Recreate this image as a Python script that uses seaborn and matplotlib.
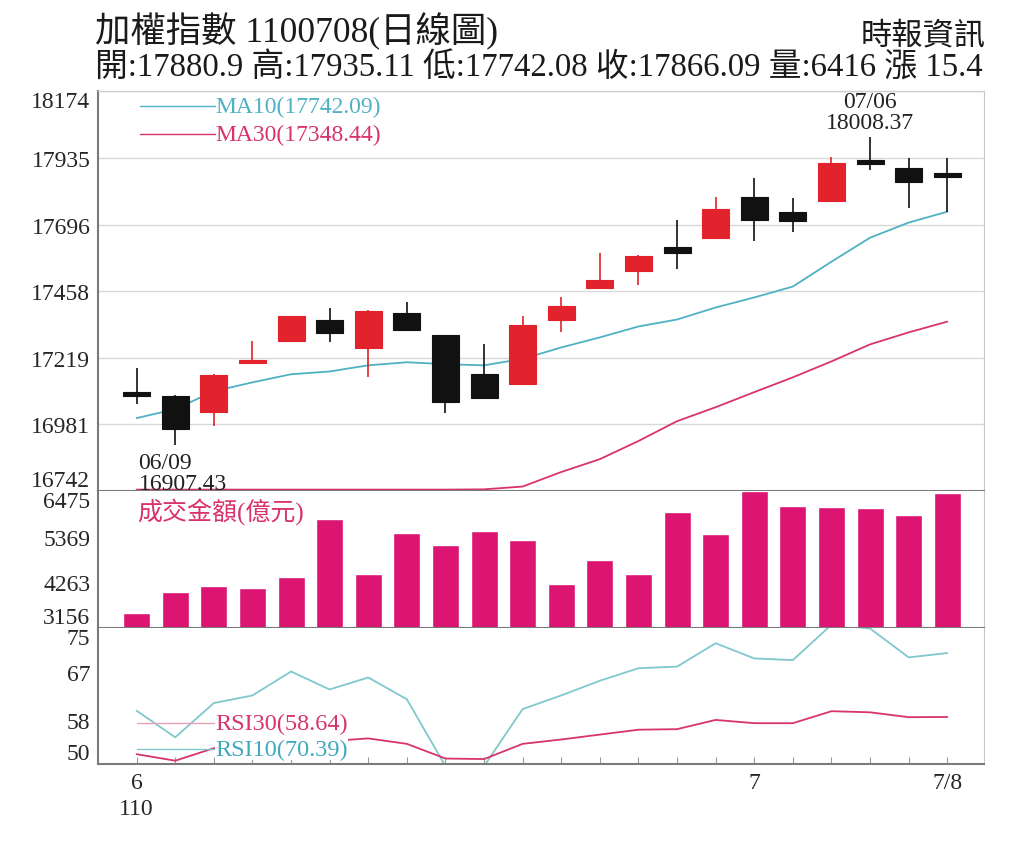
import numpy as np
import pandas as pd
import matplotlib
matplotlib.use('Agg')
import matplotlib.pyplot as plt
import seaborn as sns

# 加權指數 日線 06/08 ~ 07/08 (110年)
dates = ['06/08', '06/09', '06/10', '06/11', '06/15', '06/16', '06/17', '06/18',
         '06/21', '06/22', '06/23', '06/24', '06/25', '06/28', '06/29', '06/30',
         '07/01', '07/02', '07/05', '07/06', '07/07', '07/08']
opens = [17097, 17081, 17024, 17199, 17278, 17353, 17253, 17381, 17299, 17160, 17124,
         17356, 17470, 17528, 17617, 17649, 17795, 17742, 17781, 17928, 17899, 17880.9]
closes = [17083.9, 16963, 17156, 17210, 17367, 17306, 17388, 17317, 17060, 17074, 17335,
          17406, 17499, 17585, 17595, 17753, 17713, 17710, 17917, 17913, 17849, 17866.09]
highs = [17181, 17085, 17160, 17278, 17370, 17396, 17390, 17417, 17300, 17267, 17370,
         17438, 17595, 17588, 17713, 17795, 17863, 17792, 17938, 18008.37, 17935, 17935.11]
lows = [17053, 16907.43, 16974, 17195, 17275, 17274, 17149, 17315, 17021, 17072, 17120,
        17313, 17468, 17478, 17538, 17645, 17638, 17670, 17778, 17892, 17756, 17742.08]
ma10 = [17003, 17035, 17099, 17131, 17160, 17170, 17192, 17203, 17196, 17192, 17215,
        17256, 17292, 17331, 17356, 17399, 17435, 17474, 17563, 17649, 17703, 17742.09]
ma30 = [16747, 16747, 16747, 16747, 16747, 16747, 16747, 16747, 16747, 16748, 16758,
        16810, 16856, 16921, 16992, 17042, 17096, 17149, 17206, 17267, 17310, 17348.44]
volume = [3512, 4021, 4166, 4118, 4399, 5797, 4464, 5458, 5174, 5506, 5296,
          4222, 4804, 4457, 5959, 5434, 6480, 6120, 6095, 6056, 5901, 6416]
rsi10 = [59.8, 54.9, 61.2, 62.6, 67.0, 63.7, 65.9, 61.9, 49.6, 49.6, 60.1,
         62.6, 65.3, 67.6, 67.9, 72.2, 69.4, 69.1, 75.6, 74.9, 69.6, 70.39]
rsi30 = [51.8, 50.6, 52.9, 53.4, 53.8, 54.2, 54.7, 53.7, 51.0, 50.9, 53.7,
         54.5, 55.4, 56.3, 56.4, 58.1, 57.5, 57.5, 59.7, 59.5, 58.6, 58.64]

price_ticks = [16742, 16981, 17219, 17458, 17696, 17935, 18174]
vol_ticks = [3156, 4263, 5369, 6475]
rsi_ticks = [50, 58, 67, 75]

df = pd.DataFrame({'date': dates, 'open': opens, 'close': closes, 'high': highs,
                   'low': lows, 'ma10': ma10, 'ma30': ma30, 'vol': volume,
                   'rsi10': rsi10, 'rsi30': rsi30})
df['i'] = np.arange(len(df))

sns.set_style('white')
plt.rcParams['font.family'] = ['Liberation Serif', 'Noto Sans CJK TC']

RED = '#e2222c'
BLACK = '#111111'
TEAL = '#4fb1c4'
PINK = '#d8336e'
MAG = '#dc1472'
RSI_TEAL = '#80c8cc'
GRID = '#d9d9d9'
SEP = '#7a7a7a'

fig = plt.figure(figsize=(10.24, 8.53), dpi=100)
L, W = 0.0957, 0.8652
ax = fig.add_axes([L, 0.4232, W, 0.4689])
axv = fig.add_axes([L, 0.2626, W, 0.1606], sharex=ax)
axr = fig.add_axes([L, 0.1032, W, 0.1594], sharex=ax)

# ---- 主圖: K線 ----
up = df['close'] >= df['open']
colors = np.where(up, RED, BLACK)
ax.vlines(df['i'], df['low'], df['high'], colors=colors, lw=1.2, zorder=3)
ax.bar(df['i'], df['close'] - df['open'], bottom=df['open'], width=0.7,
       color=colors, edgecolor=colors, lw=0.8, zorder=4)
sns.lineplot(data=df, x='i', y='ma10', ax=ax, color=TEAL, lw=1.3, zorder=2)
sns.lineplot(data=df, x='i', y='ma30', ax=ax, color=PINK, lw=1.3, zorder=2)

ax.set_xlim(-1.0, 21.95)
ax.set_ylim(price_ticks[0], price_ticks[-1])
ax.set_yticks(price_ticks)
ax.set_yticklabels([str(t) for t in price_ticks])
ax.grid(axis='y', color=GRID, lw=1)
ax.set_xlabel('')
ax.set_ylabel('')
ax.tick_params(axis='x', bottom=False, labelbottom=False)

ax.plot([0.047, 0.132], [0.9625, 0.9625], transform=ax.transAxes, color=TEAL, lw=1)
ax.text(0.132, 0.9625, 'MA10(17742.09)', transform=ax.transAxes, color=TEAL,
        fontsize=17, va='center', ha='left')
ax.plot([0.047, 0.132], [0.8925, 0.8925], transform=ax.transAxes, color=PINK, lw=1)
ax.text(0.132, 0.8925, 'MA30(17348.44)', transform=ax.transAxes, color=PINK,
        fontsize=17, va='center', ha='left')

ax.text(0.05, 16806, '06/09\n16907.43', fontsize=17, ha='left', va='center',
        linespacing=1.0, color='#222222')
ax.text(19, 18099, '07/06\n18008.37', fontsize=17, ha='center', va='center',
        linespacing=1.0, color='#222222')

# ---- 成交金額 ----
sns.barplot(data=df, x='i', y='vol', ax=axv, native_scale=True, color=MAG,
            saturation=1, width=0.7, errorbar=None)
axv.set_ylim(vol_ticks[0], vol_ticks[-1])
axv.set_yticks(vol_ticks)
axv.set_yticklabels([str(t) for t in vol_ticks])
axv.set_xlabel('')
axv.set_ylabel('')
axv.tick_params(axis='x', bottom=False, labelbottom=False)
axv.text(0.044, 0.86, '成交金額(億元)', transform=axv.transAxes, color=PINK,
         fontsize=18, va='center', ha='left')

# ---- RSI ----
sns.lineplot(data=df, x='i', y='rsi10', ax=axr, color=RSI_TEAL, lw=1.3)
sns.lineplot(data=df, x='i', y='rsi30', ax=axr, color=PINK, lw=1.3)
axr.set_ylim(rsi_ticks[0], rsi_ticks[-1])
axr.set_yticks(rsi_ticks)
axr.set_yticklabels([str(t) for t in rsi_ticks])
axr.set_xlabel('')
axr.set_ylabel('')
axr.plot([0.044, 0.132], [0.30, 0.30], transform=axr.transAxes, color='#e8a0b8', lw=1)
axr.text(0.132, 0.30, 'RSI30(58.64)', transform=axr.transAxes, color=PINK,
         fontsize=17.5, va='center', ha='left', zorder=5,
         bbox=dict(facecolor='white', edgecolor='none', pad=0))
axr.plot([0.044, 0.132], [0.11, 0.11], transform=axr.transAxes, color=RSI_TEAL, lw=1)
axr.text(0.132, 0.11, 'RSI10(70.39)', transform=axr.transAxes, color='#3fa9c0',
         fontsize=17.5, va='center', ha='left', zorder=5,
         bbox=dict(facecolor='white', edgecolor='none', pad=0))

xt_labels = [''] * len(df)
xt_labels[0] = '6\n110'
xt_labels[16] = '7'
xt_labels[21] = '7/8'
axr.set_xticks(df['i'])
axr.set_xticklabels(xt_labels, fontsize=17, va='top', linespacing=1.3)
axr.tick_params(axis='x', bottom=True, direction='in', length=5, color='#999999',
                pad=6)

# ---- 框線與刻度 ----
for a in (ax, axv, axr):
    a.tick_params(axis='y', left=False, labelsize=17, pad=2)
    a.spines['left'].set_color(SEP)
    a.spines['left'].set_linewidth(1.5)
    a.spines['right'].set_color('#c8c8c8')
    a.spines['top'].set_color('#d0d0d0')
    a.spines['bottom'].set_color(SEP)
    a.spines['bottom'].set_linewidth(1.5)
    a.spines['top'].set_linewidth(1.0)
    a.set_facecolor('white')
    labs = a.get_yticklabels()
    labs[0].set_va('bottom')
    labs[-1].set_va('top')
for a in (axv, axr):
    a.spines['top'].set_visible(False)

# ---- 標題 ----
fig.text(0.093, 0.9635, '加權指數 1100708(日線圖)', fontsize=25.5, ha='left',
         va='center', color='#1a1a1a')
fig.text(0.963, 0.957, '時報資訊', fontsize=22.5, ha='right', va='center',
         color='#1a1a1a')
fig.text(0.093, 0.9205, '開:17880.9 高:17935.11 低:17742.08 收:17866.09 量:6416 漲 15.4',
         fontsize=23.6, ha='left', va='center', color='#1a1a1a')

fig.savefig('out.png', dpi=100, facecolor='white')
